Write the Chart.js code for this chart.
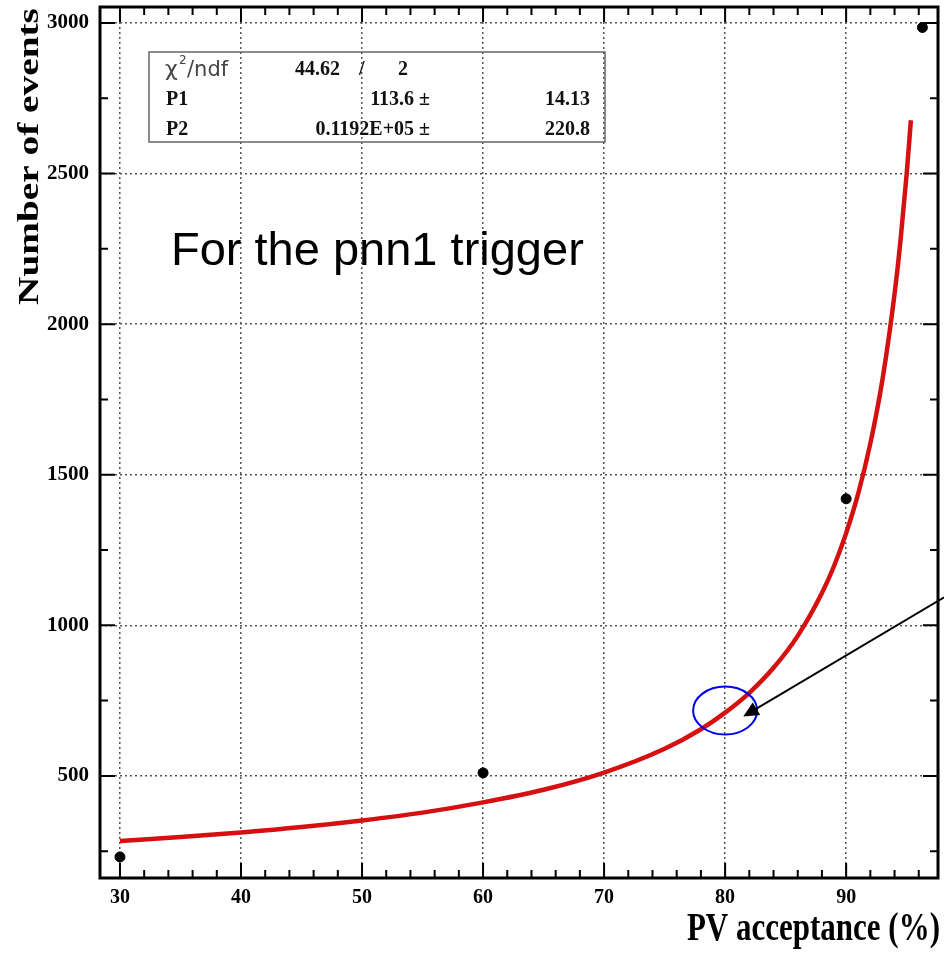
<!DOCTYPE html>
<html>
<head>
<meta charset="utf-8">
<script src="https://cdn.jsdelivr.net/npm/chart.js@4.4.1/dist/chart.umd.min.js"></script>
<style>
    html, body { margin: 0; padding: 0; background: #fff; }
    #wrap { width: 944px; height: 957px; position: relative; }
</style>
</head>
<body>
<div id="wrap"><canvas id="pvChart"></canvas></div>
<script>
// axis ticks
const xTicks = [30, 40, 50, 60, 70, 80, 90];
const xMinorTicks = [32, 34, 36, 38, 42, 44, 46, 48, 52, 54, 56, 58, 62, 64, 66, 68,
    72, 74, 76, 78, 82, 84, 86, 88, 92, 94, 96];
const yTicks = [500, 1000, 1500, 2000, 2500, 3000];
const yMinorTicks = [250, 750, 1250, 1750, 2250, 2750];

// measured points
const pointX = [30, 60, 90, 96.3];
const pointY = [231, 510, 1420, 2985];

// fitted curve
const fitX = [30, 35, 40, 45, 50, 55, 60, 65, 70, 75, 78, 80, 82, 84, 86, 88, 89, 90, 91, 92, 93, 94, 94.5, 95, 95.35];
const fitY = [284, 297, 312, 330, 352, 378, 412, 454, 511, 590, 655, 710, 776, 859, 965, 1107, 1197, 1306, 1438, 1604, 1816, 2100, 2281, 2498, 2677];

// fit box text
const fitRows = [
    ['P1', '113.6 \u00b1', '14.13'],
    ['P2', '0.1192E+05 \u00b1', '220.8']
];

const SERIF = '"Liberation Serif", "Times New Roman", serif';

const frameAndLabels = {
    id: 'frameAndLabels',
    afterDraw(chart) {
        const ctx = chart.ctx;
        const area = chart.chartArea;
        const xs = chart.scales.x;
        const ys = chart.scales.y;
        ctx.save();

        // inner ticks
        ctx.strokeStyle = '#000';
        ctx.lineWidth = 2;
        const tick = (vals, len, isX) => {
            vals.forEach(v => {
                ctx.beginPath();
                if (isX) {
                    const px = xs.getPixelForValue(v);
                    ctx.moveTo(px, area.bottom); ctx.lineTo(px, area.bottom - len);
                    ctx.moveTo(px, area.top); ctx.lineTo(px, area.top + len);
                } else {
                    const py = ys.getPixelForValue(v);
                    ctx.moveTo(area.left, py); ctx.lineTo(area.left + len, py);
                    ctx.moveTo(area.right, py); ctx.lineTo(area.right - len, py);
                }
                ctx.stroke();
            });
        };
        tick(xTicks, 15, true);
        tick(xMinorTicks, 8, true);
        tick(yTicks, 15, false);
        tick(yMinorTicks, 8, false);

        // frame
        ctx.lineWidth = 3;
        ctx.strokeRect(area.left, area.top, area.right - area.left, area.bottom - area.top);

        // fit box
        const bx = area.left + 49, by = area.top + 45;
        ctx.lineWidth = 1.5;
        ctx.strokeStyle = '#666';
        ctx.strokeRect(bx, by, 456, 90);
        ctx.fillStyle = '#444';
        ctx.textBaseline = 'alphabetic';
        ctx.textAlign = 'left';
        ctx.font = '22px "DejaVu Sans", sans-serif';
        ctx.fillText('\u03c7', bx + 16, by + 24);
        ctx.font = '12px "DejaVu Sans", sans-serif';
        ctx.fillText('2', bx + 30, by + 12);
        ctx.font = '21px "DejaVu Sans", sans-serif';
        ctx.fillText('/ndf', bx + 38, by + 24);

        ctx.fillStyle = '#111';
        ctx.font = 'bold 20px ' + SERIF;
        ctx.textAlign = 'right';
        ctx.fillText('44.62', bx + 191, by + 23);
        ctx.textAlign = 'left';
        ctx.fillText('/', bx + 210, by + 23);
        ctx.fillText('2', bx + 249, by + 23);
        fitRows.forEach((row, i) => {
            const ry = by + 53 + i * 30;
            ctx.textAlign = 'left';
            ctx.fillText(row[0], bx + 17, ry);
            ctx.textAlign = 'right';
            ctx.fillText(row[1], bx + 281, ry);
            ctx.fillText(row[2], bx + 441, ry);
        });

        // annotation text
        ctx.fillStyle = '#000';
        ctx.textAlign = 'left';
        ctx.font = '47px "Liberation Sans", Arial, sans-serif';
        ctx.fillText('For the pnn1 trigger', area.left + 71, area.top + 258);

        // ellipse + arrow
        const ex = xs.getPixelForValue(80), ey = ys.getPixelForValue(717);
        ctx.strokeStyle = '#0000ee';
        ctx.lineWidth = 2;
        ctx.beginPath();
        ctx.ellipse(ex, ey, 32, 24, 0, 0, Math.PI * 2);
        ctx.stroke();

        const tx = xs.getPixelForValue(81.5), ty = ys.getPixelForValue(697);
        const sx = xs.getPixelForValue(98.1), sy = ys.getPixelForValue(1093);
        const ang = Math.atan2(ty - sy, tx - sx);
        ctx.strokeStyle = '#000';
        ctx.lineWidth = 2;
        ctx.beginPath();
        ctx.moveTo(sx, sy);
        ctx.lineTo(tx - 10 * Math.cos(ang), ty - 10 * Math.sin(ang));
        ctx.stroke();
        ctx.fillStyle = '#000';
        ctx.beginPath();
        ctx.moveTo(tx, ty);
        ctx.lineTo(tx - 17 * Math.cos(ang - 0.45), ty - 17 * Math.sin(ang - 0.45));
        ctx.lineTo(tx - 17 * Math.cos(ang + 0.45), ty - 17 * Math.sin(ang + 0.45));
        ctx.closePath();
        ctx.fill();

        // axis titles (stretched like the source image)
        ctx.fillStyle = '#000';
        ctx.font = 'bold 30px ' + SERIF;
        ctx.save();
        ctx.translate(38, 305);
        ctx.rotate(-Math.PI / 2);
        ctx.scale(1.31, 1);
        ctx.textAlign = 'left';
        ctx.fillText('Number of events', 0, 0);
        ctx.restore();

        ctx.save();
        ctx.font = 'bold 31px ' + SERIF;
        ctx.translate(940, 940);
        ctx.scale(1, 1.3);
        ctx.textAlign = 'right';
        ctx.fillText('PV acceptance (%)', 0, 0);
        ctx.restore();

        ctx.restore();
    }
};

const gridOpts = {
    color: '#555',
    lineWidth: 1.5,
    drawTicks: false
};

new Chart(document.getElementById('pvChart'), {
    type: 'scatter',
    data: {
        datasets: [
            {
                label: 'fit',
                data: fitX.map((x, i) => ({ x: x, y: fitY[i] })),
                showLine: true,
                borderColor: '#d41010',
                borderWidth: 4.5,
                pointRadius: 0,
                cubicInterpolationMode: 'monotone',
                fill: false
            },
            {
                label: 'data',
                data: pointX.map((x, i) => ({ x: x, y: pointY[i] })),
                backgroundColor: '#000',
                borderColor: '#000',
                pointRadius: 5
            }
        ]
    },
    options: {
        responsive: true,
        maintainAspectRatio: false,
        animation: false,
        layout: { padding: { top: 7, right: 5, left: 0, bottom: 0 } },
        plugins: {
            legend: { display: false },
            tooltip: { enabled: false }
        },
        scales: {
            x: {
                type: 'linear',
                min: 28.35,
                max: 97.59,
                afterBuildTicks: scale => { scale.ticks = xTicks.map(v => ({ value: v })); },
                afterFit: scale => {
                    scale.height = 79;
                    scale.paddingLeft = 0;
                    scale.paddingRight = 0;
                },
                grid: gridOpts,
                border: { display: false, dash: [2, 3] },
                ticks: {
                    color: '#000',
                    padding: 8,
                    maxRotation: 0,
                    callback: v => String(v),
                    font: { family: SERIF, size: 20, weight: 'bold' }
                }
            },
            y: {
                type: 'linear',
                min: 161,
                max: 3053,
                afterBuildTicks: scale => { scale.ticks = yTicks.map(v => ({ value: v })); },
                afterFit: scale => {
                    scale.width = 100;
                    scale.paddingTop = 0;
                    scale.paddingBottom = 0;
                },
                grid: gridOpts,
                border: { display: false, dash: [2, 3] },
                ticks: {
                    color: '#000',
                    padding: 11,
                    callback: v => String(v),
                    font: { family: SERIF, size: 21, weight: 'bold' }
                }
            }
        }
    },
    plugins: [frameAndLabels]
});
</script>
</body>
</html>
